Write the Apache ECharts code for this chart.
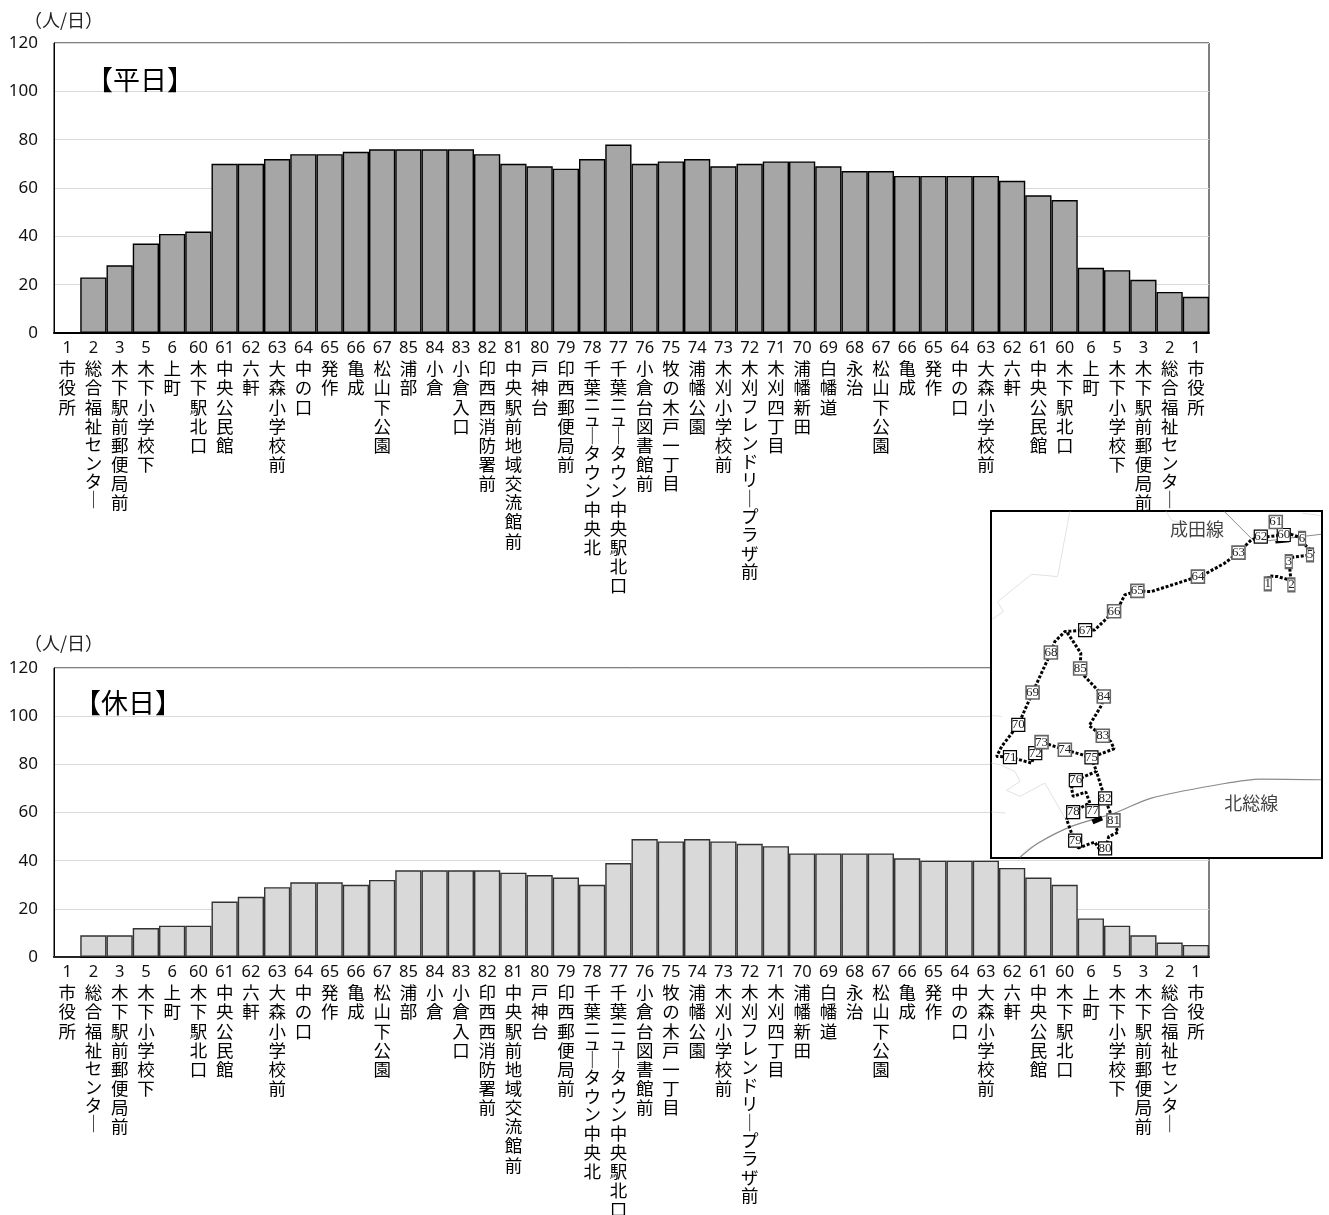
<!DOCTYPE html>
<html><head><meta charset="utf-8">
<style>html,body{margin:0;padding:0;background:#fff}#c{width:1329px;height:1215px}</style>
<script src="https://cdn.jsdelivr.net/npm/echarts@6/dist/echarts.min.js"></script></head>
<body><div id="c"></div>
<script>
const stopNumbers=[1,2,3,5,6,60,61,62,63,64,65,66,67,85,84,83,82,81,80,79,78,77,76,75,74,73,72,71,70,69,68,67,66,65,64,63,62,61,60,6,5,3,2,1];
const stopNames=['市役所','総合福祉センタ\uFF5C','木下駅前郵便局前','木下小学校下','上町','木下駅北口','中央公民館','六軒','大森小学校前','中の口','発作','亀成','松山下公園','浦部','小倉','小倉入口','印西西消防署前','中央駅前地域交流館前','戸神台','印西郵便局前','千葉ニュ\uFF5Cタウン中央北','千葉ニュ\uFF5Cタウン中央駅北口','小倉台図書館前','牧の木戸一丁目','浦幡公園','木刈小学校前','木刈フレンドリ\uFF5Cプラザ前','木刈四丁目','浦幡新田','白幡道','永治','松山下公園','亀成','発作','中の口','大森小学校前','六軒','中央公民館','木下駅北口','上町','木下小学校下','木下駅前郵便局前','総合福祉センタ\uFF5C','市役所'];
const weekday=[0,23,28,37,41,42,70,70,72,74,74,75,76,76,76,76,74,70,69,68,72,78,70,71,72,69,70,71,71,69,67,67,65,65,65,65,63,57,55,27,26,22,17,15];
const holiday=[0,9,9,12,13,13,23,25,29,31,31,30,32,36,36,36,36,35,34,33,30,39,49,48,49,48,47,46,43,43,43,43,41,40,40,40,37,33,30,16,13,9,6,5];
const yTicks={min:0,max:120,interval:20};
// inset route map, in map units
const routeMain=[[850,237],[853,213],[880,215],[915,225],[921,240],[916,190],[913,170],[925,157],[977,150],[990,146],[962,120],[953,100],[920,88],[898,90],[850,95],[829,95],[800,105],[762,143],[720,175],[660,208],[640,215],[500,260],[458,258],[420,270],[405,300],[388,319],[330,375],[301,376],[240,380],[210,410],[198,443],[143,563],[100,660],[50,725],[35,755],[75,757],[140,775],[151,745],[170,712],[240,735],[320,758],[388,732],[378,710],[354,693],[313,663],[351,600],[357,575],[300,515],[286,491],[288,445],[262,405],[245,380]];
const routeSouth=[[320,758],[335,800],[275,825],[260,850],[265,875],[303,862],[317,900],[323,920]];
const routeSouth2=[[310,897],[265,922],[245,943],[260,985],[273,1007],[280,1030],[330,1012],[345,1035],[362,1032],[372,995],[400,983],[386,949],[360,880],[335,800]];
const naritaLine=[[720,20],[800,100],[830,110],[870,105],[950,95],[1010,88]];
const hokusoLine=[[105,1058],[160,1015],[260,965],[390,925],[500,880],[700,840],[830,823],[1010,825]];
const boundaries=[[[255,20],[218,215],[140,208],[38,290],[55,320],[22,343]],[[545,20],[560,45],[590,55]],[[20,775],[45,780],[90,800],[105,830],[65,857],[105,875],[180,835],[240,940]],[[105,1055],[125,1035],[245,970]],[[20,922],[62,925]],[[22,632],[50,635]],[[955,25],[1010,32]]];
const stubs=[[[323,952],[352,940]],[[873,112],[915,108]]];
const mapStops=[['1',850,237,1],['2',921,240,1],['3',913,170,1],['5',977,150,1],['6',953,100,1],['60',898,90,0],['61',874,51,1],['62',829,95,0],['63',762,143,1],['64',640,215,1],['65',458,258,1],['66',388,319,1],['67',301,376,0],['68',198,443,1],['69',143,563,1],['70',100,660,0],['71',75,757,0],['72',151,745,0],['73',170,712,1],['74',240,735,1],['75',320,758,0],['76',273,826,0],['77',323,919,0],['78',265,922,0],['79',271,1008,0],['80',361,1031,0],['81',386,947,1],['82',361,881,0],['83',354,693,1],['84',357,575,1],['85',286,491,1]];
const mapTexts=[['成田線',637,72],['北総線',800,895]];

const font='"Noto Sans CJK JP"';
const kana=/[\u30a0-\u30ff\uFF5C]/;
const charStyle=c=>(c==='ニ'||c==='ュ')?'s':(kana.test(c)?'k':'c');
function xAxis(gridIndex){return {type:'category',gridIndex,data:stopNumbers.map((n,i)=>n+' '+stopNames[i]),
  axisTick:{show:false},axisLine:{lineStyle:{color:'#000',width:2}},
  axisLabel:{interval:0,margin:5,verticalAlign:'top',align:'center',
    formatter:(v,i)=>'{n|'+stopNumbers[i]+'}\n'+[...stopNames[i]].map(c=>'{'+charStyle(c)+'|'+c+'}').join('\n'),
    rich:{n:{fontFamily:'"Noto Sans"',fontSize:16.5,lineHeight:21,color:'#111',align:'center'},
          c:{fontFamily:font,fontSize:17.5,lineHeight:19.15,color:'#000',align:'center'},
          k:{fontFamily:font,fontSize:17.5,lineHeight:18.3,color:'#000',align:'center'},
          s:{fontFamily:font,fontSize:17.5,lineHeight:14.5,color:'#000',align:'center'}}}};}
function yAxis(gridIndex){return {type:'value',gridIndex,...yTicks,
  axisLine:{show:true,lineStyle:{color:'#000',width:1}},axisTick:{show:false},
  splitLine:{lineStyle:{color:'#d9d9d9',width:1}},
  axisLabel:{fontFamily:'"Noto Sans"',fontSize:17,color:'#111',margin:16}};}
function bar(i,data,fill,edge){return {type:'bar',xAxisIndex:i,yAxisIndex:i,data,barWidth:'100%',z:2,
  itemStyle:{color:fill,borderColor:edge,borderWidth:1.4}};}
function path(data,color,width,type,extra){return Object.assign({type:'line',xAxisIndex:2,yAxisIndex:2,data,showSymbol:false,silent:true,z:21,
  lineStyle:{color,width,type:type||'solid'},animation:false},extra||{});}
const series=[bar(0,weekday,'#a6a6a6','#000'),bar(1,holiday,'#d9d9d9','#333')];
boundaries.forEach(b=>series.push(path(b,'#e2e2e2',1)));
series.push(path(naritaLine,'#8a8a8a',1),path(hokusoLine,'#8a8a8a',1.2,'solid',{smooth:0.3}));
[routeMain,routeSouth,routeSouth2].forEach(r=>series.push(path(r,'#000',3,[3,1.8])));
series.push(path(stubs[0],'#000',5),path(stubs[1],'#000',2.5));
series.push({type:'scatter',xAxisIndex:2,yAxisIndex:2,z:22,animation:false,silent:true,
  data:mapStops.map(s=>({value:[s[1],s[2]],symbolSize:[s[0].length>1?13:7,13],
    itemStyle:{borderColor:s[3]?'#666':'#000',borderWidth:s[3]?1.6:1.2}})),
  symbol:'rect',itemStyle:{color:'#fff',opacity:1},
  label:{show:true,position:'inside',formatter:p=>mapStops[p.dataIndex][0],fontFamily:'"Liberation Sans Narrow"',fontSize:13,color:'#222'}});
series.push({type:'scatter',xAxisIndex:2,yAxisIndex:2,z:22,animation:false,silent:true,symbolSize:0,
  data:mapTexts.map(s=>[s[1],s[2]]),
  label:{show:true,position:'inside',formatter:p=>mapTexts[p.dataIndex][0],fontFamily:font,fontSize:18,color:'#111'}});
const mapAxis={type:'value',gridIndex:2,show:false,splitLine:{show:false}};
const chart=echarts.init(document.getElementById('c'),null,{renderer:'canvas'});
const T=(text,left,top,fontSize,color)=>({text,left,top,textStyle:{fontFamily:font,fontSize,fontWeight:'normal',color}});
chart.setOption({animation:false,backgroundColor:'#fff',
 title:[T('【平日】',81,61,27,'#000'),T('【休日】',69,684,27,'#000'),T('（人/日）',19,6,18,'#222'),T('（人/日）',19,629,18,'#222')],
 grid:[
  {left:54,width:1155,top:43,height:290,outerBoundsMode:'none',show:true,backgroundColor:'#fff',borderColor:'#000',borderWidth:1},
  {left:54,width:1155,top:668,height:289,outerBoundsMode:'none',show:true,backgroundColor:'#fff',borderColor:'#000',borderWidth:1},
  {left:991,width:331,top:511,height:347,outerBoundsMode:'none',show:true,backgroundColor:'#fff',borderColor:'#000',borderWidth:2,z:20}],
 xAxis:[xAxis(0),xAxis(1),Object.assign({min:18,max:1013},mapAxis)],
 yAxis:[yAxis(0),yAxis(1),Object.assign({min:18,max:1060,inverse:true},mapAxis)],
 series});
</script></body></html>
